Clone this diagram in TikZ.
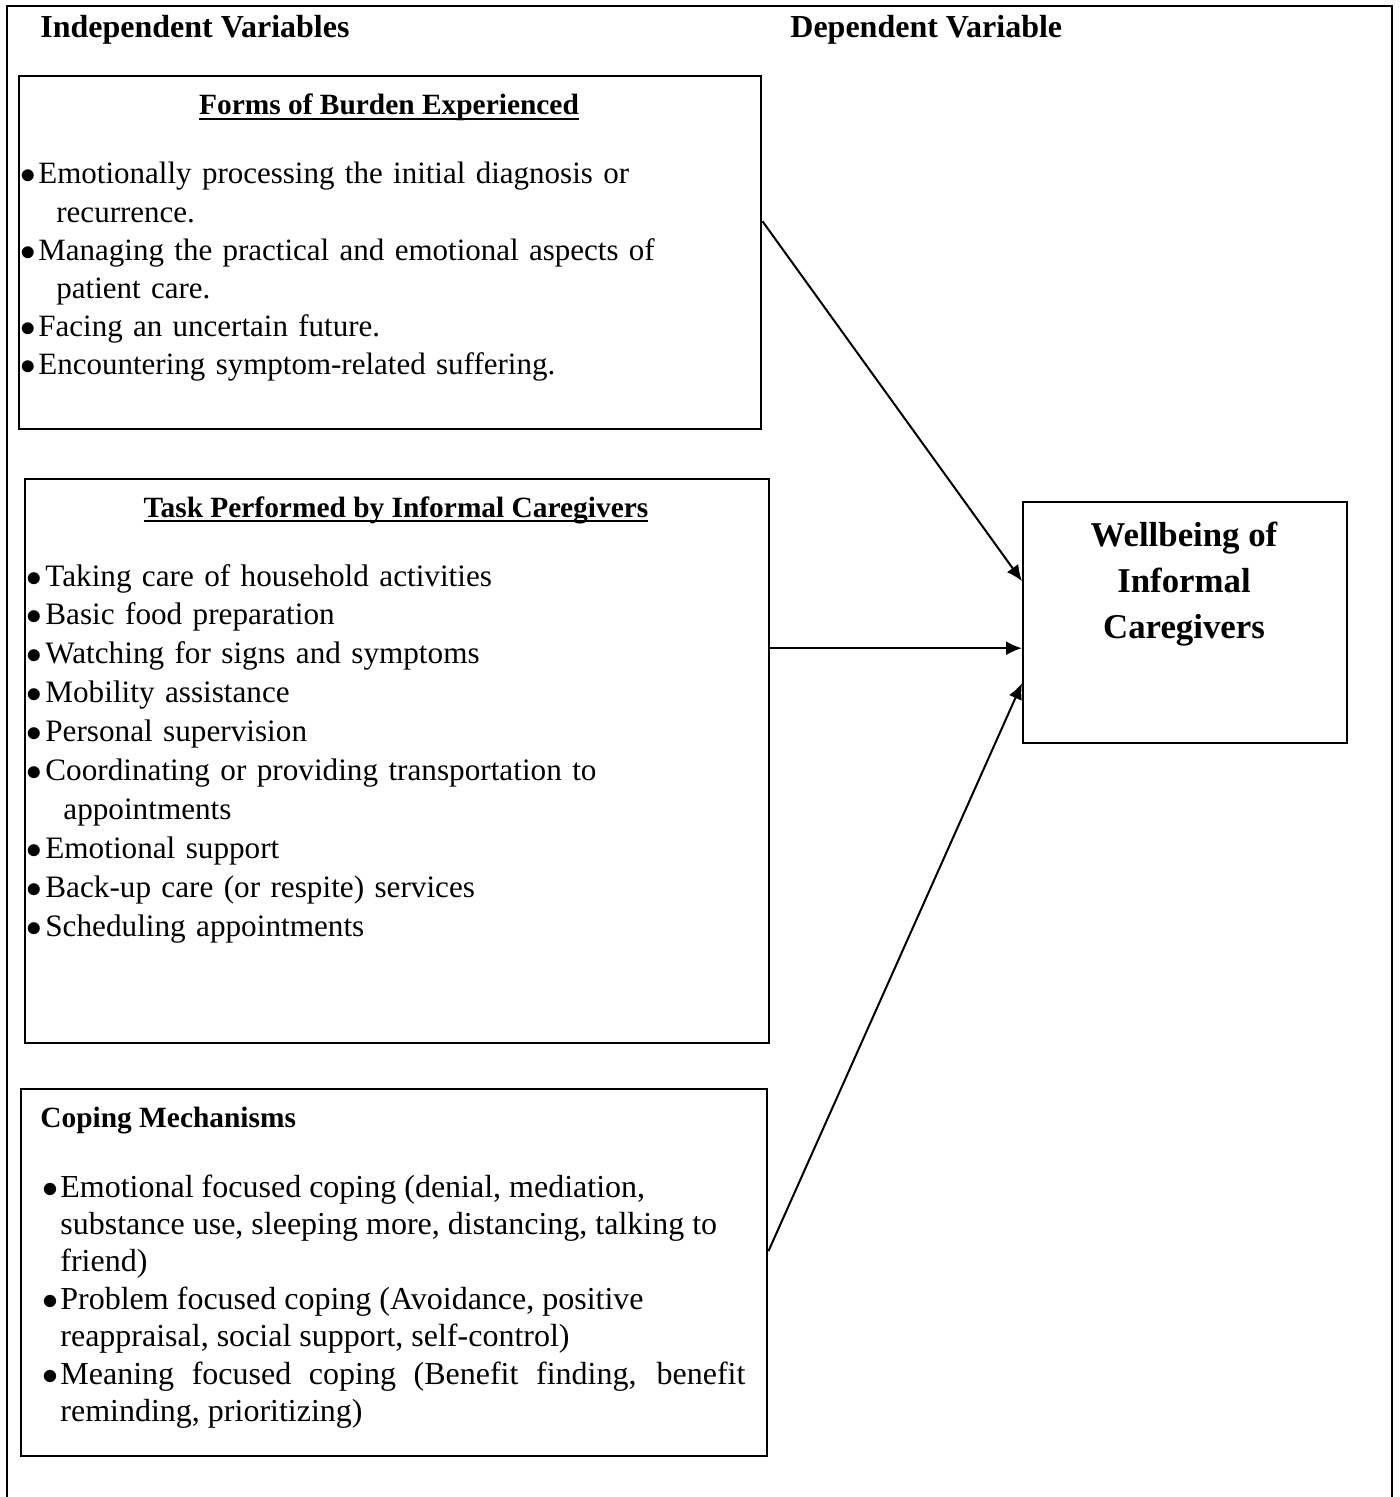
\RequirePackage{fix-cm}
\documentclass[tikz,border=0pt]{standalone}
\usepackage{fontspec}
\setmainfont{Liberation Serif}
\usetikzlibrary{arrows.meta}

\newcommand{\bitem}[3]{\hangindent=#2\hangafter=1\noindent\makebox[#1][l]{$\bullet$}#3\par}
\newcommand{\nl}{\unskip\hfil\break}
\newcommand{\titleline}[1]{\setbox0\hbox{#1}\rlap{\rule[-2.6pt]{\wd0}{1pt}}\box0}

\begin{document}
\begin{tikzpicture}[x={(0.5pt,0pt)},y={(0pt,-0.5pt)},
	box/.style={draw,line width=1.2pt,inner sep=0pt,anchor=north west},
	head/.style={font=\fontsize{16pt}{19pt}\selectfont\bfseries,inner sep=0pt},
	title/.style={font=\fontsize{14.7pt}{18pt}\selectfont\bfseries,inner sep=0pt},
	list/.style={inner sep=0pt,anchor=base west},
	link/.style={-{Latex[length=8pt,width=7pt]},line width=1pt}]
	\useasboundingbox (0,0) rectangle (1400,1497);
	\draw[line width=1.4pt] (7,1520) -- (7,6) -- (1392,6) -- (1392,1520);
	\node[head,anchor=base west] (indep) at (40,38) {Independent Variables};
	\node[head,anchor=base west] (dep) at (790,38) {Dependent Variable};
	% boxes
	\node[box,minimum width=371pt,minimum height=176.5pt] (burden) at (18,75) {};
	\node[box,minimum width=372pt,minimum height=282pt] (task) at (24,478) {};
	\node[box,minimum width=373pt,minimum height=183.5pt] (coping) at (20,1088) {};
	\node[box,minimum width=162pt,minimum height=120.5pt] (wellbeing) at (1022,501) {};
	% box contents
	\node[title,anchor=base] (burdentitle) at (389,115) {\titleline{Forms of Burden Experienced}};
	\node[list,text width=360pt,align=left,font=\fontsize{15.5pt}{19.1pt}\selectfont] (burdenlist) at (20,184) {%
		\bitem{9pt}{18pt}{Emotionally processing the initial diagnosis or\nl recurrence.}
		\bitem{9pt}{18pt}{Managing the practical and emotional aspects of\nl patient care.}
		\bitem{9pt}{18pt}{Facing an uncertain future.}
		\bitem{9pt}{18pt}{Encountering symptom-related suffering.}};
	\node[title,anchor=base] (tasktitle) at (396,517) {\titleline{Task Performed by Informal Caregivers}};
	\node[list,text width=360pt,align=left,font=\fontsize{15.6pt}{19.45pt}\selectfont] (tasklist) at (26,586) {%
		\bitem{9.5pt}{18.5pt}{Taking care of household activities}
		\bitem{9.5pt}{18.5pt}{Basic food preparation}
		\bitem{9.5pt}{18.5pt}{Watching for signs and symptoms}
		\bitem{9.5pt}{18.5pt}{Mobility assistance}
		\bitem{9.5pt}{18.5pt}{Personal supervision}
		\bitem{9.5pt}{18.5pt}{Coordinating or providing transportation to\nl appointments}
		\bitem{9.5pt}{18.5pt}{Emotional support}
		\bitem{9.5pt}{18.5pt}{Back-up care (or respite) services}
		\bitem{9.5pt}{18.5pt}{Scheduling appointments}};
	\node[title,anchor=base west] (copingtitle) at (40,1127) {Coping Mechanisms};
	\node[list,text width=351.5pt,align=justify,font=\fontsize{16pt}{18.7pt}\selectfont] (copinglist) at (42,1197) {%
		\bitem{9pt}{9pt}{Emotional focused coping (denial, mediation,\nl substance use, sleeping more, distancing, talking to\nl friend)}
		\bitem{9pt}{9pt}{Problem focused coping (Avoidance, positive\nl reappraisal, social support, self-control)}
		\bitem{9pt}{9pt}{Meaning focused coping (Benefit finding, benefit\linebreak reminding, prioritizing)}};
	\node[font=\fontsize{17.4pt}{23pt}\selectfont\bfseries,inner sep=0pt,anchor=base,align=center] (welltext) at (1184,638) {Wellbeing of\\Informal\\Caregivers};
	% connectors
	\draw[link] ([yshift=15.75pt]burden.east) -- ([yshift=20.75pt]wellbeing.west);
	\draw[link] ([yshift=56.5pt]task.east) -- ([yshift=-12.75pt]wellbeing.west);
	\draw[link] ([yshift=10.75pt]coping.east) -- ([yshift=-30.25pt]wellbeing.west);
\end{tikzpicture}
\end{document}
